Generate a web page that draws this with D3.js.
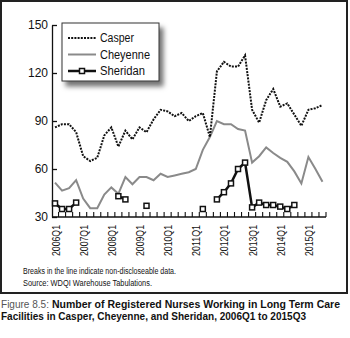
<!DOCTYPE html>
<html><head><meta charset="utf-8">
<script src="https://cdn.jsdelivr.net/npm/d3@7"></script>
<style>
html,body{margin:0;padding:0;background:#fff;}
svg{display:block;}
</style></head>
<body>
<svg id="c" width="350" height="338"></svg>
<script>
const quarters = ["2006Q1","2006Q2","2006Q3","2006Q4","2007Q1","2007Q2","2007Q3","2007Q4",
"2008Q1","2008Q2","2008Q3","2008Q4","2009Q1","2009Q2","2009Q3","2009Q4",
"2010Q1","2010Q2","2010Q3","2010Q4","2011Q1","2011Q2","2011Q3","2011Q4",
"2012Q1","2012Q2","2012Q3","2012Q4","2013Q1","2013Q2","2013Q3","2013Q4",
"2014Q1","2014Q2","2014Q3","2014Q4","2015Q1","2015Q2","2015Q3"];
const casper = [86,88,88,83,68,65,67,81,86,74,84,78.5,86,83,91,97,96,93,95,90,93,95,80,
121,127,124,124,131,97,89,103,110,99,101,94,87,97,98,100];
const cheyenne = [51.5,46.5,48,53,41.5,35.5,35.5,44,48.5,44.5,55,50.5,55,55,53,57,55,56,57,58,60,72,80,
90,88,88,85,84,64,68,73.5,70,67,64.5,58.5,51,67.5,60,52];
const sheridan = [38.5,35,35,39,null,null,null,null,null,43,41,null,null,37,null,null,null,null,null,null,null,35,null,
41,45.5,51,60,64,36,39,37.5,37.5,36.5,35,37.5,null,null,null,null];
const yTicks = [30,60,90,120,150];
const xTickLabels = ["2006Q1","2007Q1","2008Q1","2009Q1","2010Q1","2011Q1","2012Q1","2013Q1","2014Q1","2015Q1"];
const seriesNames = ["Casper","Cheyenne","Sheridan"];
const footnotes = ["Breaks in the line indicate non-discloseable data.","Source: WDQI Warehouse Tabulations."];
const captionLabel = "Figure 8.5:";
const captionLines = ["Number of Registered Nurses Working in Long Term Care","Facilities in Casper, Cheyenne, and Sheridan, 2006Q1 to 2015Q3"];

const svg = d3.select("#c");
const defs = svg.append("defs");
const f = defs.append("filter").attr("id","sh").attr("x","-20%").attr("y","-20%").attr("width","150%").attr("height","160%");
f.append("feDropShadow").attr("dx",4).attr("dy",5).attr("stdDeviation",2.5).attr("flood-color","#000").attr("flood-opacity",0.55);

svg.append("rect").attr("x",0).attr("y",0).attr("width",350).attr("height",338).attr("fill","#fff");
// frame
svg.append("rect").attr("x",1).attr("y",1).attr("width",346).attr("height",292)
  .attr("fill","none").attr("stroke","#222").attr("stroke-width",2);

const x = d3.scaleBand().domain(quarters).range([51.5,326]).padding(0);
const bw = x.bandwidth();
const cx = q => x(q) + bw/2;
const y = d3.scaleLinear().domain([30,150]).range([217,25]);
const axisX = 52;

// y axis
const ya = svg.append("g").attr("transform",`translate(${axisX},0)`)
  .call(d3.axisLeft(y).tickValues(yTicks).tickSize(-5).tickSizeOuter(0).tickPadding(4));
ya.select(".domain").attr("stroke","#111").attr("stroke-width",1.3);
ya.selectAll(".tick line").attr("stroke","#111").attr("stroke-width",1.3);
ya.selectAll("text").attr("font-family","Liberation Sans, Arial, sans-serif").attr("font-size",12).attr("fill","#111");

// x axis
const xg = svg.append("g");
xg.append("line").attr("x1",axisX).attr("x2",x.range()[1]).attr("y1",y(30)).attr("y2",y(30))
  .attr("stroke","#111").attr("stroke-width",1.3);
xg.selectAll("line.t").data(quarters).join("line").attr("class","t")
  .attr("x1",d=>x(d)+bw).attr("x2",d=>x(d)+bw).attr("y1",y(30)).attr("y2",y(30)-5)
  .attr("stroke","#111").attr("stroke-width",1.1);
xg.selectAll("text").data(xTickLabels).join("text")
  .attr("transform",d=>`translate(${cx(d)+0.5},${y(30)+8}) rotate(-90)`)
  .attr("text-anchor","end").attr("dominant-baseline","central")
  .attr("font-family","Liberation Sans, Arial, sans-serif").attr("font-size",10.5)
  .attr("textLength",31).attr("lengthAdjust","spacingAndGlyphs").attr("fill","#111")
  .text(d=>d);

// lines
const mk = arr => d3.line().defined((d,i)=>arr[i]!=null).x((d,i)=>cx(quarters[i])).y((d,i)=>y(arr[i]));
svg.append("path").datum(cheyenne).attr("d",mk(cheyenne)).attr("fill","none")
  .attr("stroke","#8a8a8a").attr("stroke-width",2).attr("stroke-linejoin","miter");
svg.append("path").datum(casper).attr("d",mk(casper)).attr("fill","none")
  .attr("stroke","#111").attr("stroke-width",2).attr("stroke-dasharray","2,1.2").attr("stroke-linejoin","miter");
svg.append("path").datum(sheridan).attr("d",mk(sheridan)).attr("fill","none")
  .attr("stroke","#111").attr("stroke-width",2.5).attr("stroke-linejoin","miter");
const sq = 5;
svg.selectAll("rect.s").data(sheridan.map((v,i)=>({v,q:quarters[i]})).filter(d=>d.v!=null)).join("rect")
  .attr("class","s").attr("x",d=>cx(d.q)-sq/2).attr("y",d=>y(d.v)-sq/2).attr("width",sq).attr("height",sq)
  .attr("fill","#fff").attr("stroke","#111").attr("stroke-width",1.5);

// legend
const lg = svg.append("g");
lg.append("rect").attr("x",62).attr("y",23).attr("width",97).attr("height",58)
  .attr("fill","#fff").attr("stroke","#333").attr("stroke-width",1).attr("filter","url(#sh)");
const rowsY = [38,54.5,71];
const widths = [34,50,45];
const styles = [
  {stroke:"#111",w:2,dash:"2,1.2"},
  {stroke:"#8a8a8a",w:2,dash:null},
  {stroke:"#111",w:2.5,dash:null}
];
seriesNames.forEach((n,i)=>{
  const l = lg.append("line").attr("x1",68).attr("x2",96).attr("y1",rowsY[i]).attr("y2",rowsY[i])
    .attr("stroke",styles[i].stroke).attr("stroke-width",styles[i].w);
  if(styles[i].dash) l.attr("stroke-dasharray",styles[i].dash);
  if(i===2) lg.append("rect").attr("x",82-2.5).attr("y",rowsY[i]-2.5).attr("width",5).attr("height",5)
    .attr("fill","#fff").attr("stroke","#111").attr("stroke-width",1.5);
  lg.append("text").attr("x",100).attr("y",rowsY[i]).attr("dominant-baseline","central")
    .attr("font-family","Liberation Sans, Arial, sans-serif").attr("font-size",12.5).attr("fill","#111")
    .attr("textLength",widths[i]).attr("lengthAdjust","spacingAndGlyphs").text(n);
});

// footnotes
const fnY = [274,285.5];
const fnW = [153,129];
footnotes.forEach((t,i)=>{
  svg.append("text").attr("x",23).attr("y",fnY[i]).attr("font-family","Liberation Sans Narrow, Liberation Sans, Arial, sans-serif")
    .attr("font-size",8.5).attr("fill","#111").attr("textLength",fnW[i]).attr("lengthAdjust","spacingAndGlyphs").text(t);
});

// caption
const capFont = "Liberation Sans Narrow, Liberation Sans, Arial, sans-serif";
svg.append("text").attr("x",1).attr("y",307.5).attr("font-family",capFont)
  .attr("font-size",10.5).attr("fill","#555").attr("textLength",48).attr("lengthAdjust","spacingAndGlyphs")
  .text(captionLabel);
svg.append("text").attr("x",52).attr("y",307.5).attr("font-family",capFont)
  .attr("font-size",10).attr("font-weight","bold").attr("fill","#111")
  .attr("textLength",288).attr("lengthAdjust","spacingAndGlyphs").text(captionLines[0]);
svg.append("text").attr("x",1).attr("y",319.5).attr("font-family",capFont)
  .attr("font-size",10.5).attr("font-weight","bold").attr("fill","#111")
  .attr("textLength",305).attr("lengthAdjust","spacingAndGlyphs").text(captionLines[1]);
</script>
</body></html>
